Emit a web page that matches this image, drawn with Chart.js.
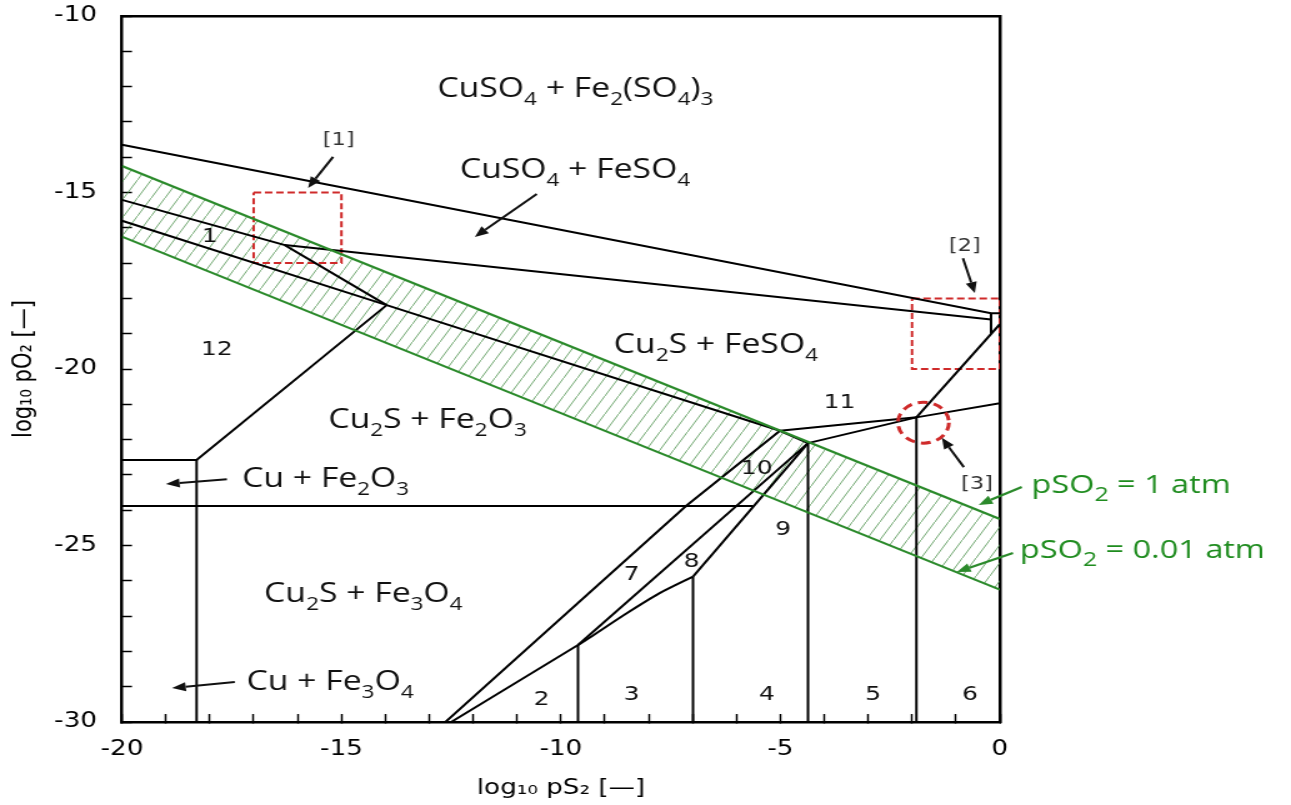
<!DOCTYPE html>
<html><head><meta charset="utf-8">
<script src="https://cdn.jsdelivr.net/npm/chart.js@4.4.0/dist/chart.umd.min.js"></script>
<style>html,body{margin:0;padding:0;background:#fff;overflow:hidden}</style>
</head><body>
<canvas id="c" width="1033" height="805" style="display:block;width:1291px;height:805px"></canvas>
<script>
// ---- axes ----
const xTickValues = [-20, -15, -10, -5, 0];
const yTickValues = [-30, -25, -20, -15, -10];

// ---- phase boundaries [log10 pS2, log10 pO2] ----
const bndA = [[-20,-13.65],[-0.2,-18.42],[0,-18.42]];
const bndB = [[-16.29,-16.49],[-0.2,-18.6]];
const bndC = [[-20,-15.21],[-16.29,-16.49],[-13.97,-18.19]];
const bndD = [[-20,-15.80],[-13.97,-18.19],[-5.01,-21.75]];
const bndF = [[-20,-22.58],[-18.3,-22.58],[-13.97,-18.19]];
const bndCuV = [[-18.3,-22.58],[-18.3,-30]];
const bndH = [[-20,-23.88],[-5.62,-23.88]];
const bndSmall = [[-0.2,-18.42],[-0.2,-19.0]];
const bndDiag3 = [[-1.90,-21.37],[0,-18.73]];
const bnd11a = [[-5.01,-21.75],[-1.90,-21.37],[0,-20.97]];
const bndP12 = [[-5.01,-21.75],[-4.37,-22.10]];
const bnd11b = [[-4.37,-22.10],[-1.90,-21.37]];
const bndV3 = [[-1.90,-21.37],[-1.90,-30]];
const bndV9 = [[-4.37,-22.10],[-4.37,-30]];
const bnd7a = [[-5.01,-21.75],[-7.15,-23.88],[-12.63,-30]];
const bnd7b = [[-4.37,-22.10],[-9.61,-27.82]];
const bnd8a = [[-4.37,-22.10],[-6.99,-25.88]];
const bndCurve = [[-6.99,-25.88],[-7.75,-26.35],[-8.50,-26.92],[-9.26,-27.54],[-9.61,-27.82],[-12.50,-30]];
const bndV8 = [[-6.99,-25.88],[-6.99,-30]];
const bndV2 = [[-9.61,-27.82],[-9.61,-30]];

// ---- pSO2 isobars ----
const so2High = [[-20,-14.25],[0,-24.25]];   // pSO2 = 1 atm
const so2Low  = [[-20,-16.25],[0,-26.25]];   // pSO2 = 0.01 atm

// ---- red highlight marks ----
const box1 = [[-17,-15],[-15,-15],[-15,-17],[-17,-17],[-17,-15]];
const box2 = [[-2,-18],[0,-18],[0,-20],[-2,-20],[-2,-18]];
const circle3 = [-1.74, -21.52, 0.58]; // centre x, centre y, radius

// ---- texts ----
const regionLabels = [
  ['CuSO_4 + Fe_2(SO_4)_3', -9.67, -12.30],
  ['CuSO_4 + FeSO_4', -9.68, -14.60],
  ['Cu_2S + FeSO_4', -6.47, -19.55],
  ['Cu_2S + Fe_2O_3', -13.04, -21.67],
  ['Cu + Fe_2O_3', -15.36, -23.35],
  ['Cu_2S + Fe_3O_4', -14.50, -26.61],
  ['Cu + Fe_3O_4', -15.26, -29.09]
];
const numberLabels = [
  ['1',-18.0,-16.25],['12',-17.84,-19.46],['10',-5.54,-22.84],['11',-3.65,-20.97],
  ['9',-4.94,-24.56],['8',-7.02,-25.46],['7',-8.39,-25.84],['2',-10.44,-29.38],
  ['3',-8.39,-29.24],['4',-5.31,-29.24],['5',-2.89,-29.24],['6',-0.68,-29.24]
];
const bracketLabels = [['[1]',-15.06,-13.51],['[2]',-0.80,-16.52],['[3]',-0.52,-23.26]];
const greenLabels = [['pSO_2 = 1 atm', 0.72, -23.52],['pSO_2 = 0.01 atm', 0.456, -25.36]];

// ---- arrows [x1,y1,x2,y2] (head at x2,y2) ----
const blackArrows = [
  [-15.19,-13.99,-15.76,-14.87],
  [-10.55,-15.04,-11.96,-16.26],
  [-0.84,-16.86,-0.57,-17.85],
  [-0.82,-22.78,-1.32,-21.95],
  [-17.61,-23.12,-19.0,-23.26],
  [-17.43,-28.87,-18.86,-29.04]
];
const greenArrows = [
  [0.50,-23.34,-0.48,-23.85],
  [0.30,-25.21,-0.98,-25.75]
];

const GREEN = '#2b8a2b';
const GREEN_TXT = '#1f8c1f';
const RED = '#cf2a2a';
const LABEL_FONT = '"Open Sans", "Noto Sans", sans-serif';
const NUM_FONT = '"DejaVu Sans", sans-serif';

function makeHatch() {
  const c = document.createElement('canvas');
  c.width = 11; c.height = 18;
  const g = c.getContext('2d');
  g.strokeStyle = 'rgba(70,140,70,0.75)';
  g.lineWidth = 1;
  g.beginPath(); g.moveTo(-1, 19.64); g.lineTo(12, -1.64); g.stroke();
  return g.createPattern(c, 'repeat');
}

const toPts = arr => arr.map(([x, y]) => ({x, y}));
const blackLines = [bndA,bndB,bndC,bndD,bndF,bndCuV,bndH,bndSmall,bndDiag3,bnd11a,bndP12,bnd11b,
  bndV3,bndV9,bnd7a,bnd7b,bnd8a,bndCurve,bndV8,bndV2];

const common = {showLine: true, pointRadius: 0, pointHoverRadius: 0, tension: 0};
const datasets = [
  {...common, data: toPts(so2High), borderColor: GREEN, borderWidth: 2.2, fill: {target: '+1'}, backgroundColor: makeHatch()},
  {...common, data: toPts(so2Low), borderColor: GREEN, borderWidth: 2.2, fill: false},
  ...blackLines.map(b => ({...common, data: toPts(b), borderColor: '#000', borderWidth: 2, fill: false,
    tension: b === bndCurve ? 0.25 : 0})),
  ...[box1, box2].map(b => ({...common, data: toPts(b), borderColor: RED, borderWidth: 2, borderDash: [6, 3], fill: false}))
];

function richText(ctx, str, x, y, o) {
  const parts = [];
  for (let i = 0; i < str.length; i++) {
    if (str[i] === '_') { parts.push({t: str[i + 1], s: true}); i++; }
    else if (parts.length && !parts[parts.length - 1].s) parts[parts.length - 1].t += str[i];
    else parts.push({t: str[i], s: false});
  }
  const fMain = `${o.size}px ${o.family}`, fSub = `${o.sub}px ${o.family}`;
  let w = 0;
  parts.forEach(p => { ctx.font = p.s ? fSub : fMain; p.w = ctx.measureText(p.t).width; w += p.w; });
  let cx = o.align === 'left' ? x : x - w / 2;
  ctx.fillStyle = o.color; ctx.textBaseline = 'alphabetic'; ctx.textAlign = 'left';
  parts.forEach(p => { ctx.font = p.s ? fSub : fMain; ctx.fillText(p.t, cx, y + (p.s ? o.drop : 0)); cx += p.w; });
}

function arrow(ctx, x1, y1, x2, y2, color, lw, hl, hw) {
  const a = Math.atan2(y2 - y1, x2 - x1);
  const bx = x2 - hl * Math.cos(a), by = y2 - hl * Math.sin(a);
  ctx.strokeStyle = color; ctx.lineWidth = lw;
  ctx.beginPath(); ctx.moveTo(x1, y1); ctx.lineTo(bx, by); ctx.stroke();
  ctx.fillStyle = color;
  ctx.beginPath(); ctx.moveTo(x2, y2);
  ctx.lineTo(bx + hw * Math.sin(a), by - hw * Math.cos(a));
  ctx.lineTo(bx - hw * Math.sin(a), by + hw * Math.cos(a));
  ctx.closePath(); ctx.fill();
}

const annotPlugin = {
  id: 'annot',
  afterDatasetsDraw(chart) {
    const {ctx, scales: {x, y}} = chart;
    const px = v => x.getPixelForValue(v), py = v => y.getPixelForValue(v);
    ctx.save();
    // dashed circle [3]
    const cx = px(circle3[0]), cy = py(circle3[1]);
    const rx = Math.abs(px(circle3[0] + circle3[2]) - cx), ry = Math.abs(py(circle3[1] + circle3[2]) - cy);
    ctx.strokeStyle = RED; ctx.lineWidth = 3; ctx.setLineDash([8, 5]);
    ctx.beginPath(); ctx.ellipse(cx, cy, rx, ry, 0, 0, Math.PI * 2); ctx.stroke();
    ctx.setLineDash([]);
    // arrows
    blackArrows.forEach(a => arrow(ctx, px(a[0]), py(a[1]), px(a[2]), py(a[3]), '#111', 2, 11, 4.5));
    greenArrows.forEach(a => arrow(ctx, px(a[0]), py(a[1]), px(a[2]), py(a[3]), GREEN, 2.2, 11, 4.5));
    // region labels
    regionLabels.forEach(l => richText(ctx, l[0], px(l[1]), py(l[2]),
      {size: 27, sub: 18, drop: 8, family: LABEL_FONT, color: '#111', align: 'center'}));
    // green labels
    greenLabels.forEach(l => richText(ctx, l[0], px(l[1]), py(l[2]),
      {size: 26, sub: 20, drop: 8, family: LABEL_FONT, color: GREEN_TXT, align: 'left'}));
    // numbers
    ctx.textAlign = 'center'; ctx.textBaseline = 'middle';
    ctx.fillStyle = '#111'; ctx.font = `20px ${NUM_FONT}`;
    numberLabels.forEach(l => ctx.fillText(l[0], px(l[1]), py(l[2])));
    ctx.fillStyle = '#333'; ctx.font = `18px ${NUM_FONT}`;
    bracketLabels.forEach(l => ctx.fillText(l[0], px(l[1]), py(l[2])));
    ctx.restore();
  }
};

const tickFont = {family: 'DejaVu Sans', size: 21};
const frameAxis = (pos, min, max) => ({
  type: 'linear', position: pos, min, max,
  afterFit: s => { if (pos === 'top') s.height = 0; else s.width = 0; s.paddingTop = s.paddingBottom = s.paddingLeft = s.paddingRight = 0; },
  ticks: {display: false}, grid: {drawOnChartArea: false, drawTicks: false},
  border: {display: true, color: '#000', width: 2.5}
});

new Chart(document.getElementById('c'), {
  type: 'scatter',
  data: {datasets},
  plugins: [annotPlugin],
  options: {
    responsive: false,
    devicePixelRatio: 1,
    animation: false,
    layout: {padding: {left: 0, top: 16, right: 233, bottom: 0}},
    plugins: {legend: {display: false}, tooltip: {enabled: false}, filler: {drawTime: 'beforeDatasetsDraw'}},
    scales: {
      x: {
        type: 'linear', position: 'bottom', min: -20, max: 0,
        afterFit: s => { s.height = 83; s.paddingLeft = 0; s.paddingRight = 0; },
        border: {display: true, color: '#000', width: 2.5},
        grid: {drawOnChartArea: false, drawTicks: true, tickLength: -8, tickColor: '#000', tickWidth: 1.5},
        ticks: {stepSize: 1, autoSkip: false, maxRotation: 0, padding: 23, color: '#000', font: tickFont,
          callback: v => xTickValues.includes(Math.round(v)) ? String(Math.round(v)) : ''},
        title: {display: true, text: 'log₁₀ pS₂ [—]', color: '#000', font: {family: 'DejaVu Sans', size: 21}, padding: {top: 0, bottom: 4}}
      },
      y: {
        type: 'linear', position: 'left', min: -30, max: -10,
        afterFit: s => { s.width = 97.6; s.paddingTop = 0; s.paddingBottom = 0; },
        border: {display: true, color: '#000', width: 2.5},
        grid: {drawOnChartArea: false, drawTicks: true, tickLength: -8, tickColor: '#000', tickWidth: 1.5},
        ticks: {stepSize: 1, autoSkip: false, padding: 28, color: '#000', font: tickFont,
          callback: v => yTickValues.includes(Math.round(v)) ? String(Math.round(v)) : ''},
        title: {display: true, text: 'log₁₀ pO₂ [—]', color: '#000', font: {family: 'DejaVu Sans', size: 21}, padding: {top: 7, bottom: 0}}
      },
      x2: frameAxis('top', -20, 0),
      y2: frameAxis('right', -30, -10)
    }
  }
});
</script>
</body></html>
